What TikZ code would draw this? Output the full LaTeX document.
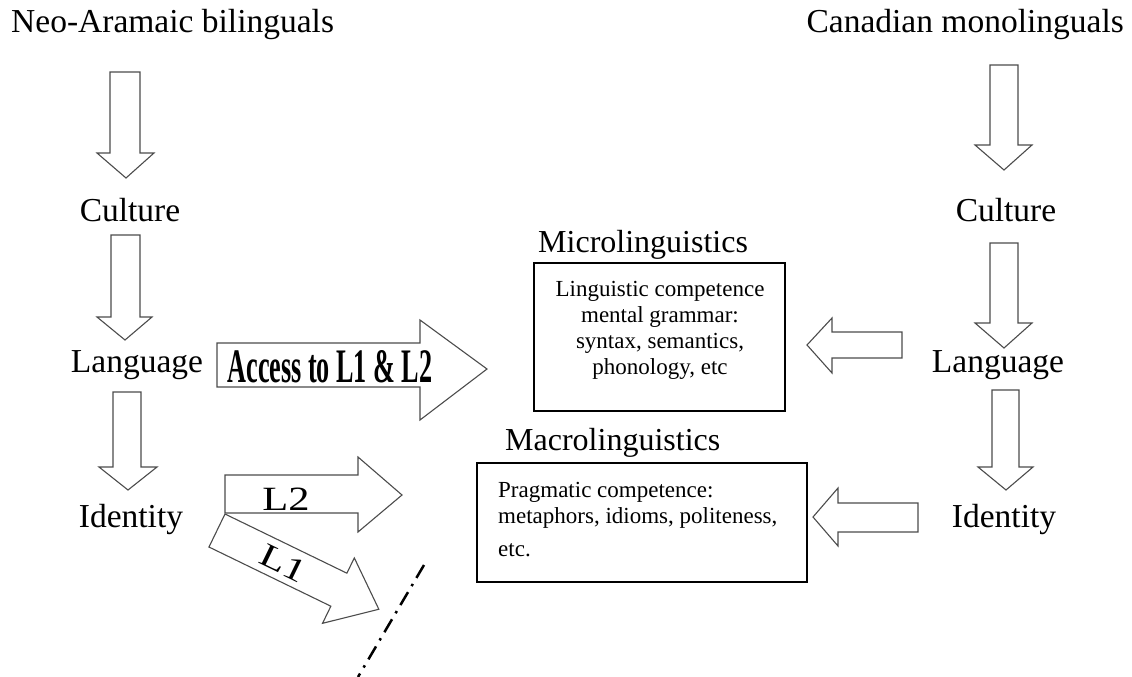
\documentclass[tikz,border=0pt]{standalone}
\usepackage{fontspec}
\setmainfont{Liberation Serif}
\usepackage{graphicx}
\begin{document}
\begin{tikzpicture}[x=1pt,y=-1pt,
  lbl/.style={font=\fontsize{33.5}{38}\selectfont, inner sep=0, anchor=base},
  headlbl/.style={font=\fontsize{32}{36}\selectfont, inner sep=0, anchor=base west},
  boxtext/.style={font=\fontsize{23}{26}\selectfont, inner sep=0},
  barrow/.style={draw=black!70, line width=1.1pt, fill=white, line join=miter},
  framebox/.style={draw=black, line width=1.3pt, inner sep=0, fill=none}]
\useasboundingbox (0,0) rectangle (1132,677);

% titles
\node[lbl, anchor=base west] (neo) at (11,33) {Neo-Aramaic bilinguals};
\node[lbl, anchor=base east] (can) at (1124,33) {Canadian monolinguals};

% left column
\node[lbl] (lcult) at (130,221) {Culture};
\node[lbl] (llang) at (137,372) {Language};
\node[lbl] (lid) at (131,527) {Identity};
\draw[barrow] (110,72) -- (140,72) -- (140,153) -- (154,153) -- (126,178) -- (97,153) -- (110,153) -- cycle;
\draw[barrow] (111,235) -- (140,235) -- (140,317) -- (152,317) -- (125,340) -- (97,317) -- (111,317) -- cycle;
\draw[barrow] (113,392) -- (141,392) -- (141,467) -- (157,467) -- (128,490) -- (99,467) -- (113,467) -- cycle;

% right column
\node[lbl] (rcult) at (1006,221) {Culture};
\node[lbl] (rlang) at (998,372) {Language};
\node[lbl] (rid) at (1004,527) {Identity};
\draw[barrow] (990,65) -- (1018,65) -- (1018,145) -- (1032,145) -- (1004,170) -- (975,145) -- (990,145) -- cycle;
\draw[barrow] (990,243) -- (1018,243) -- (1018,323) -- (1032,323) -- (1004,348) -- (975,323) -- (990,323) -- cycle;
\draw[barrow] (992,390) -- (1019,390) -- (1019,467) -- (1033,467) -- (1006,490) -- (978,467) -- (992,467) -- cycle;

% micro box
\node[headlbl] (microt) at (538,252) {Microlinguistics};
\node[framebox, minimum width=251pt, minimum height=148pt] (micro) at (659.5,337) {};
\node[boxtext, align=center, anchor=north] (microtxt) at (660,281)
  {Linguistic competence\\ mental grammar:\\ syntax, semantics,\\ phonology, etc};
\draw[barrow] (902,332) -- (832,332) -- (832,318) -- (807,345) -- (832,373) -- (832,358) -- (902,358) -- cycle;

% macro box
\node[headlbl] (macrot) at (505,450) {Macrolinguistics};
\node[framebox, minimum width=330pt, minimum height=119pt] (macro) at (642,522.5) {};
\node[boxtext, align=left, anchor=north west] (macrotxt) at (498,482)
  {Pragmatic competence:\\ metaphors, idioms, politeness,\\[7pt] etc.};
\draw[barrow] (918,503) -- (838,503) -- (838,488) -- (813,517) -- (838,546) -- (838,532) -- (918,532) -- cycle;

% access arrow
\draw[barrow] (217,343) -- (420,343) -- (420,320) -- (487,369) -- (420,420) -- (420,387) -- (217,387) -- cycle;
\node[inner sep=0] (access) at (330,367) {\resizebox{205pt}{32pt}{\bfseries Access to L1 \& L2}};

% L2 arrow
\draw[barrow] (225,475) -- (358,475) -- (358,457) -- (402,495) -- (358,532) -- (358,513) -- (225,513) -- cycle;
\node[inner sep=0, anchor=base, font=\fontsize{34}{38}\selectfont] (l2) at (286,510) {\scalebox{1.25}[1]{L2}};

% L1 arrow (rotated)
\begin{scope}[shift={(225,514)}, rotate=-25.9]
\draw[barrow] (0,0) -- (135.5,0) -- (135.5,-17) -- (180,18.5) -- (135.5,55.7) -- (135.5,36.7) -- (0,36.7) -- cycle;
\node[inner sep=0, font=\fontsize{33}{38}\selectfont, rotate=-25.9] (l1) at (74,19) {\scalebox{1.3}[1]{L1}};
\end{scope}

% dash-dot line
\coordinate (dtop) at (424,565);
\coordinate (dbot) at (358,677);
\draw[line width=2.5pt, dash pattern=on 15pt off 7pt on 2.5pt off 7pt] (dtop) -- (dbot);
\end{tikzpicture}
\end{document}
